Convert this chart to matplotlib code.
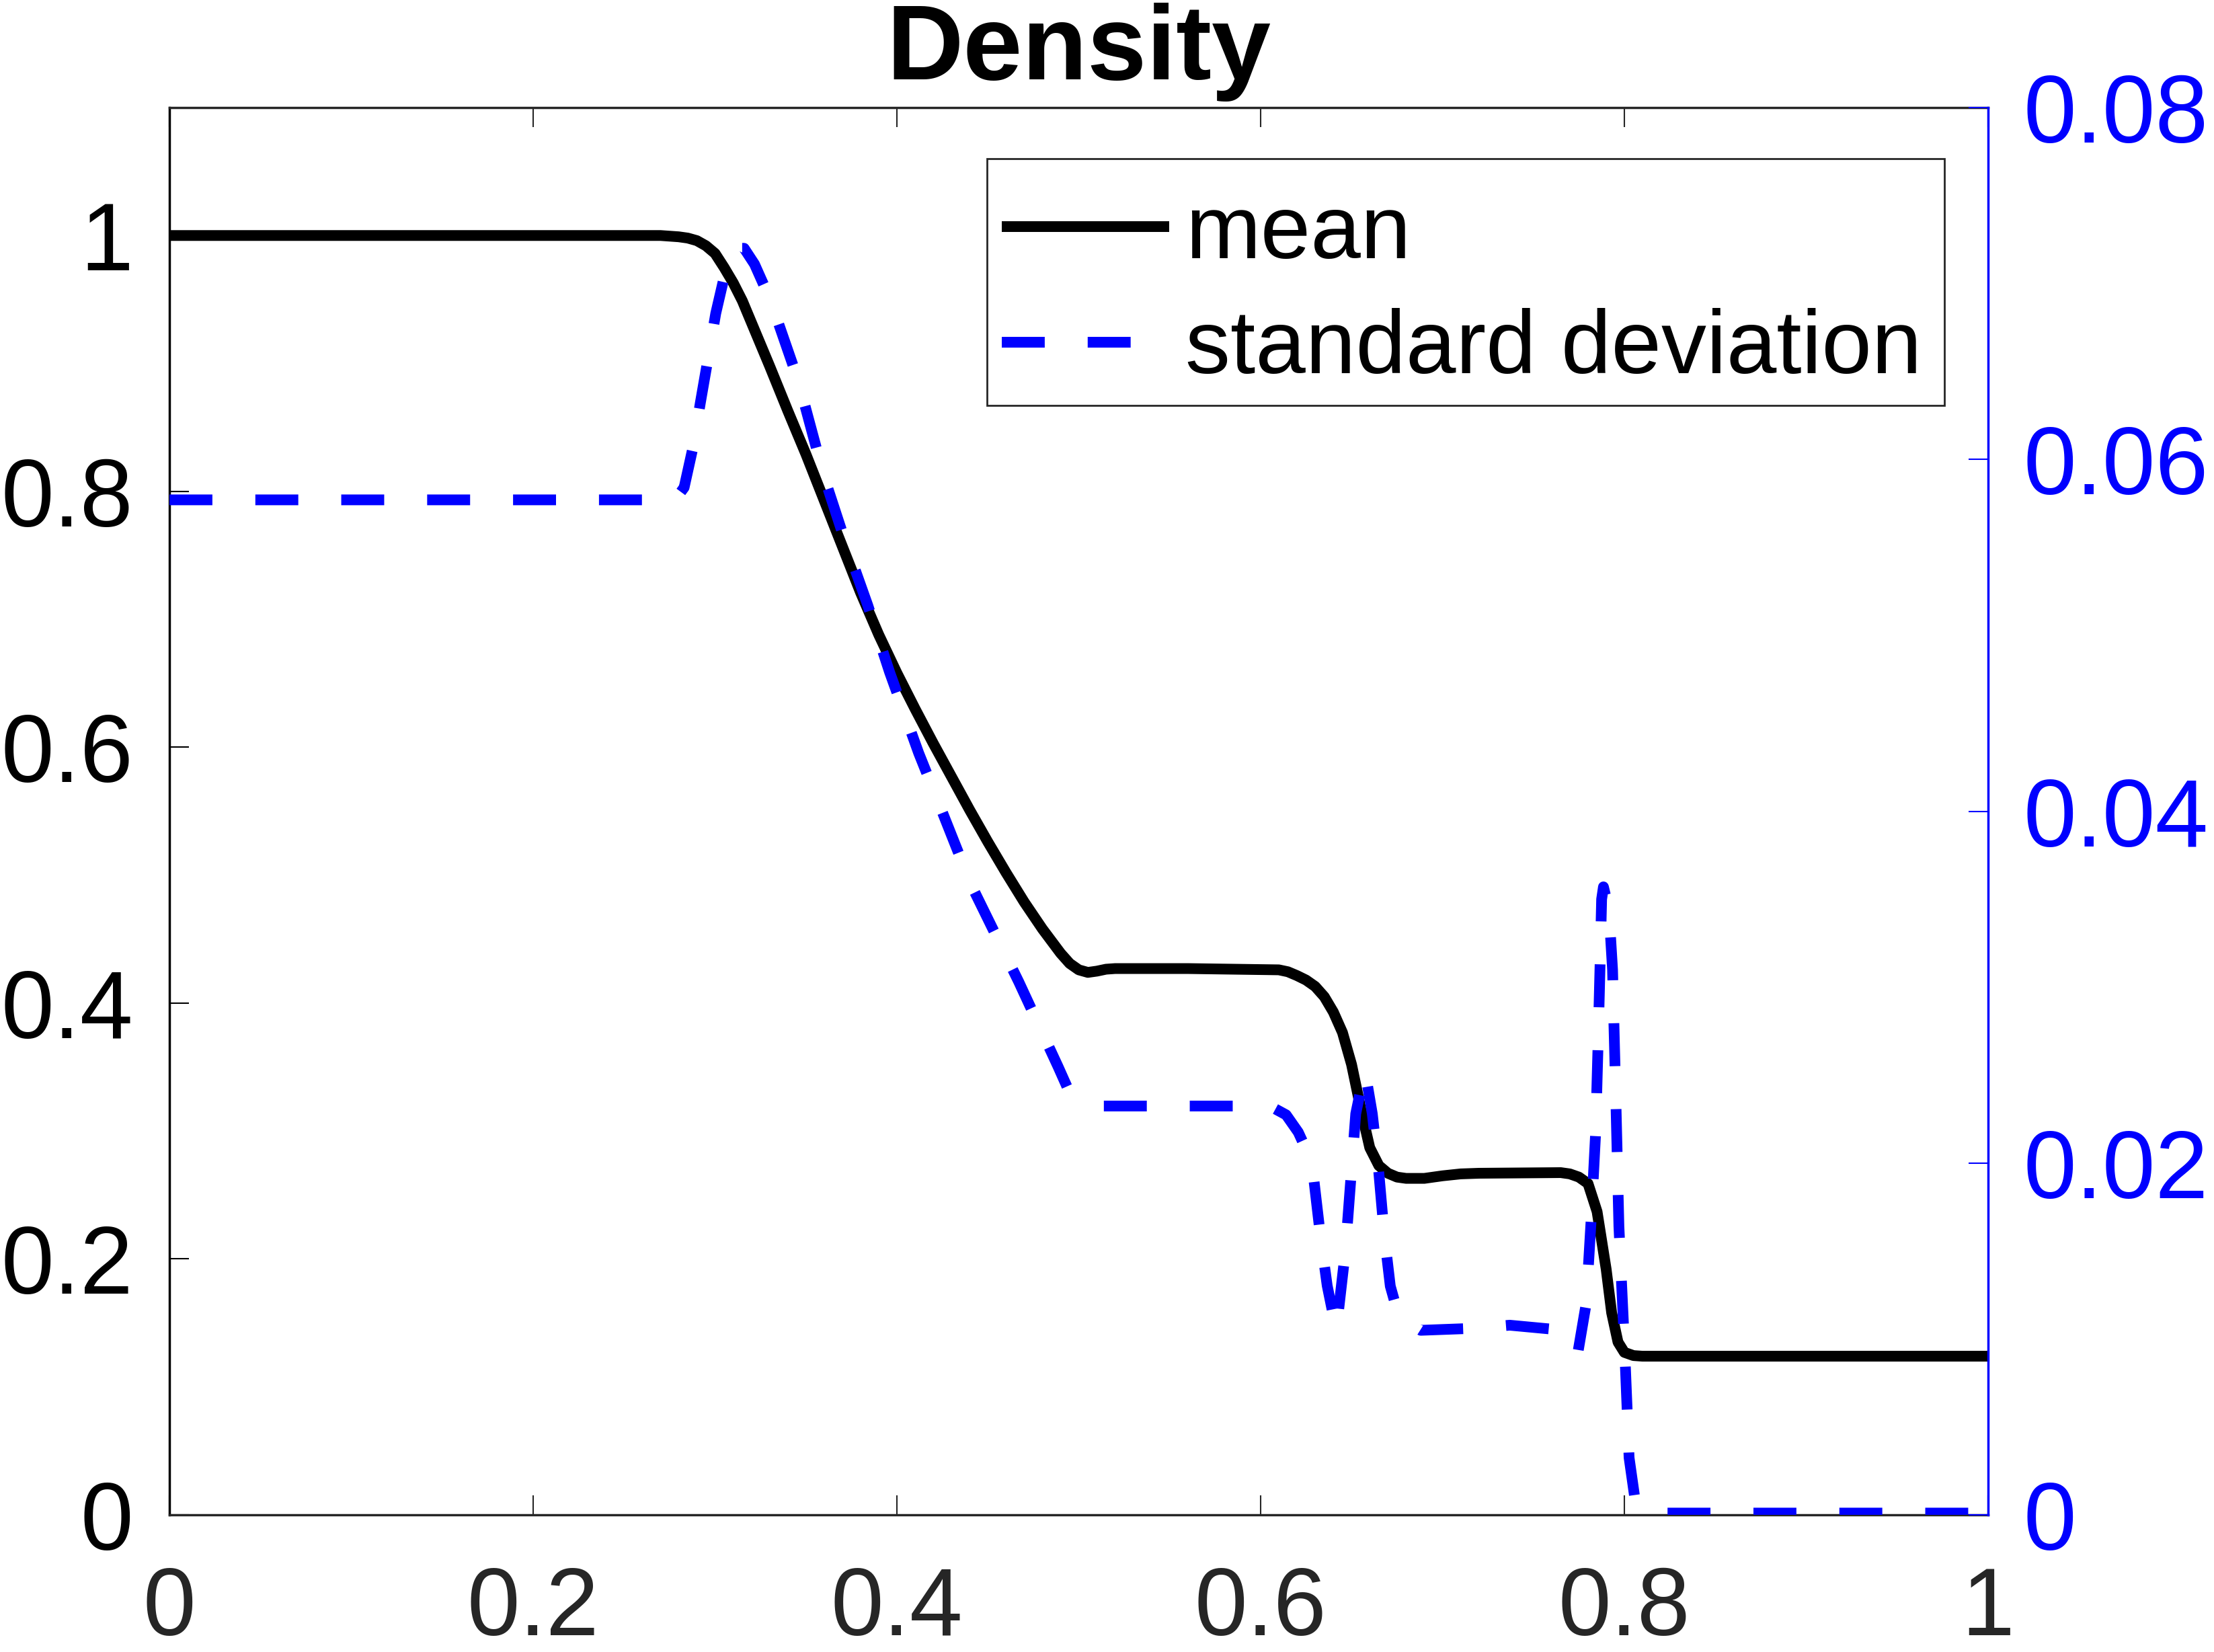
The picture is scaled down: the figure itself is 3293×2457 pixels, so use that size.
import matplotlib
matplotlib.use('Agg')
import matplotlib.pyplot as plt
from matplotlib.patches import Rectangle

# ---- data ----
x_mean = [0.0, 0.27, 0.28, 0.285, 0.29, 0.295, 0.30, 0.305, 0.31, 0.315, 0.32, 0.33, 0.34,
          0.35, 0.36, 0.37, 0.38, 0.39, 0.40, 0.41, 0.42, 0.43, 0.44, 0.45, 0.46, 0.47,
          0.48, 0.49, 0.495, 0.50, 0.505, 0.51, 0.515, 0.52, 0.56, 0.61, 0.615, 0.62,
          0.625, 0.63, 0.635, 0.64, 0.645, 0.65, 0.655, 0.66, 0.665, 0.67, 0.675, 0.68,
          0.69, 0.70, 0.71, 0.72, 0.765, 0.77, 0.775, 0.78, 0.785, 0.79, 0.793, 0.7965,
          0.80, 0.805, 0.81, 1.0]
mean_vals = [1.0, 1.0, 0.999, 0.998, 0.996, 0.992, 0.986, 0.975, 0.963, 0.949, 0.932, 0.898,
             0.863, 0.829, 0.793, 0.757, 0.721, 0.688, 0.658, 0.630, 0.603, 0.577, 0.551,
             0.526, 0.502, 0.479, 0.458, 0.439, 0.431, 0.426, 0.424, 0.425, 0.4265, 0.427,
             0.427, 0.426, 0.4245, 0.4215, 0.418, 0.413, 0.405, 0.393, 0.377, 0.352, 0.318,
             0.287, 0.273, 0.267, 0.264, 0.263, 0.263, 0.265, 0.2665, 0.267, 0.2675, 0.2665,
             0.264, 0.259, 0.237, 0.192, 0.158, 0.135, 0.127, 0.1245, 0.124, 0.124]

x_std = [0.0, 0.278, 0.283, 0.2877, 0.2919, 0.2961, 0.3004, 0.306, 0.311, 0.316, 0.3217,
         0.3273, 0.333, 0.3457, 0.36, 0.372, 0.384, 0.396, 0.412, 0.4244, 0.4409, 0.467,
         0.4887, 0.4937, 0.50, 0.5135, 0.59, 0.6076, 0.614, 0.6207, 0.6258, 0.629, 0.633,
         0.6366, 0.6416, 0.6466, 0.650, 0.6523, 0.6573, 0.6614, 0.6647, 0.668, 0.6713,
         0.676, 0.688, 0.714, 0.737, 0.7608, 0.770, 0.7744, 0.779, 0.7818, 0.7842, 0.7855,
         0.7867, 0.7875, 0.7885, 0.7915, 0.7935, 0.7953, 0.797, 0.8003, 0.8026, 0.8063,
         0.8137, 0.823, 1.0]
std_vals = [0.0577, 0.0577, 0.0584, 0.0606, 0.0632, 0.0657, 0.0683, 0.0708, 0.0720, 0.0720,
            0.0711, 0.0698, 0.0683, 0.0645, 0.0590, 0.0552, 0.0517, 0.0479, 0.0433, 0.0401,
            0.0358, 0.0303, 0.02546, 0.0243, 0.0237, 0.02324, 0.02324, 0.0231, 0.02274,
            0.02175, 0.0206, 0.0193, 0.01575, 0.01303, 0.01049, 0.0150, 0.01965, 0.0228,
            0.0253, 0.0228, 0.0198, 0.0159, 0.0130, 0.01127, 0.01049, 0.01059, 0.01078,
            0.01055, 0.0100, 0.0092, 0.0120, 0.0169, 0.0217, 0.0266, 0.0315, 0.0350, 0.0357,
            0.0344, 0.0310, 0.0237, 0.0164, 0.0091, 0.00325, 0.00055, 0.0003, 0.0001, 0.0001]

x_ticks = [0, 0.2, 0.4, 0.6, 0.8, 1.0]
x_ticklabels = ['0', '0.2', '0.4', '0.6', '0.8', '1']
left_ticks = [0, 0.2, 0.4, 0.6, 0.8, 1.0]
left_ticklabels = ['0', '0.2', '0.4', '0.6', '0.8', '1']
right_ticks = [0, 0.02, 0.04, 0.06, 0.08]
right_ticklabels = ['0', '0.02', '0.04', '0.06', '0.08']
title_text = 'Density'
legend_labels = ['mean', 'standard deviation']

# ---- figure ----
plt.rcParams['font.family'] = ['Liberation Sans', 'DejaVu Sans']
W, H = 3293, 2457
fig = plt.figure(figsize=(W / 100, H / 100), dpi=100)
L, R, T, B = 252, 2957, 160, 2253
ax = fig.add_axes([L / W, 1 - B / H, (R - L) / W, (B - T) / H])
ax2 = ax.twinx()

blue = (0, 0, 1)
gray = (0.15, 0.15, 0.15)

l1, = ax.plot(x_mean, mean_vals, color='k', lw=11.5, solid_joinstyle='round',
              solid_capstyle='butt', label=legend_labels[0])
l2, = ax2.plot(x_std, std_vals, color=blue, lw=11.5, dashes=(4.0, 4.0),
               dash_capstyle='butt', dash_joinstyle='round', label=legend_labels[1])

ax.set_xlim(0, 1)
ax.set_ylim(0, 1.1)
ax2.set_ylim(0, 0.08)

ax.set_xticks(x_ticks)
ax.set_xticklabels(x_ticklabels)
ax.set_yticks(left_ticks)
ax.set_yticklabels(left_ticklabels)
ax2.set_yticks(right_ticks)
ax2.set_yticklabels(right_ticklabels)

fs_tick = 102
ax.tick_params(axis='x', direction='in', length=21, width=1.5, colors=gray,
               labelsize=fs_tick, pad=54, top=True, bottom=True)
ax.tick_params(axis='y', direction='in', length=21, width=1.5, colors='k',
               labelsize=fs_tick, pad=39, left=True, right=False)
ax2.tick_params(axis='y', direction='in', length=21, width=1.5, colors=blue,
                labelsize=fs_tick, pad=38, right=True, left=False)

for s in ['top', 'bottom']:
    ax.spines[s].set_color(gray)
    ax.spines[s].set_linewidth(2.5)
ax.spines['left'].set_color('k')
ax.spines['left'].set_linewidth(2.5)
ax.spines['right'].set_visible(False)
for s in ['top', 'bottom', 'left']:
    ax2.spines[s].set_visible(False)
ax2.spines['right'].set_color(blue)
ax2.spines['right'].set_linewidth(2.5)

ax.set_title(title_text, fontsize=114, fontweight='bold', pad=30)

# legend frame (drawn separately so the entries can sit as in the reference)
frame = Rectangle((1468 / W, 1 - 603 / H), (2892 - 1468) / W, (603 - 236) / H,
                  transform=fig.transFigure, facecolor='white', edgecolor=gray,
                  linewidth=2.0, zorder=4.9, clip_on=False)
ax2.add_artist(frame)

leg = ax2.legend([l1, l2], legend_labels, loc='upper right',
                 bbox_to_anchor=(2892 / W, 1 - 253 / H), bbox_transform=fig.transFigure,
                 borderaxespad=0, fontsize=96.5, handlelength=1.86, handletextpad=0.18,
                 borderpad=0.25, labelspacing=0.35, frameon=False)
leg.set_zorder(5)

fig.savefig('out.png', dpi=100, facecolor='white')
